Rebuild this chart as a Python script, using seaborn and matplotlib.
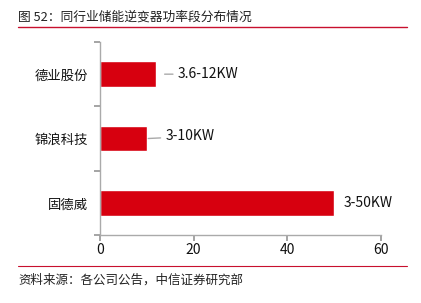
import matplotlib
matplotlib.use("Agg")
import matplotlib.pyplot as plt
import seaborn as sns
import pandas as pd
from matplotlib.lines import Line2D

companies = ["德业股份", "锦浪科技", "固德威"]
max_power = [12, 10, 50]
labels = ["3.6-12KW", "3-10KW", "3-50KW"]
xticks = [0, 20, 40, 60]

title = "图 52：同行业储能逆变器功率段分布情况"
source = "资料来源：各公司公告，中信证券研究部"

sns.set_theme(style="white")
plt.rcParams['font.family'] = ['Noto Sans CJK SC', 'DejaVu Sans']

df = pd.DataFrame({"company": companies, "power": max_power})

fig = plt.figure(figsize=(4.21, 3.03), dpi=100)
ax = fig.add_axes([100/421, 1-235/303, 281/421, 193/303])

sns.barplot(data=df, x="power", y="company", orient="h", color="#D7000F",
            width=0.4, saturation=1, ax=ax)

ax.set_xlim(0, 60)
ax.set_xticks(xticks)
ax.set_xlabel("")
ax.set_ylabel("")
ax.set_ylim(2.5, -0.5)
ax.set_yticks([-0.5, 0.5, 1.5, 2.5], minor=False)
ax.set_yticks([0, 1, 2], minor=True)
ax.set_yticklabels([], minor=False)
ax.set_yticklabels(companies, minor=True, fontsize=9.6, color="#111111")
ax.tick_params(axis="y", which="minor", length=0, pad=8.5)
ax.tick_params(axis="y", which="major", length=4, color="#999999", direction="out", left=True)
ax.tick_params(axis="x", length=4, color="#999999", direction="out", bottom=True, labelsize=10,
               pad=2, labelcolor="#111111")
for s in ["top", "right"]:
    ax.spines[s].set_visible(False)
for s in ["left", "bottom"]:
    ax.spines[s].set_color("#AAAAAA")
    ax.spines[s].set_linewidth(1)

offsets = [(13, 0), (17, 2), (9, 0)]
starts = [1.8, 0.3, 0]
for i, (v, lab) in enumerate(zip(max_power, labels)):
    dx, dy = offsets[i]
    if i < 2:
        ax.annotate(lab, xy=(v + starts[i], i), xytext=(dx, dy), textcoords="offset pixels",
                    va="center", ha="left", fontsize=10, color="#111111",
                    arrowprops=dict(arrowstyle="-", color="#AAAAAA", lw=1,
                                    shrinkA=1, shrinkB=0))
    else:
        ax.annotate(lab, xy=(v, i), xytext=(dx, dy), textcoords="offset pixels",
                    va="center", ha="left", fontsize=10, color="#111111")

fig.text(18/421, 1-17/303, title, fontsize=9.2, va="center", ha="left", color="#222222")
fig.add_artist(Line2D([18/421, 407/421], [1-27/303, 1-27/303], color="#C8102E", lw=1))
fig.add_artist(Line2D([18/421, 407/421], [1-266/303, 1-266/303], color="#C8102E", lw=0.8))
fig.text(18/421, 1-280/303, source, fontsize=9, va="center", ha="left", color="#222222")

fig.savefig("out.png", dpi=100)
